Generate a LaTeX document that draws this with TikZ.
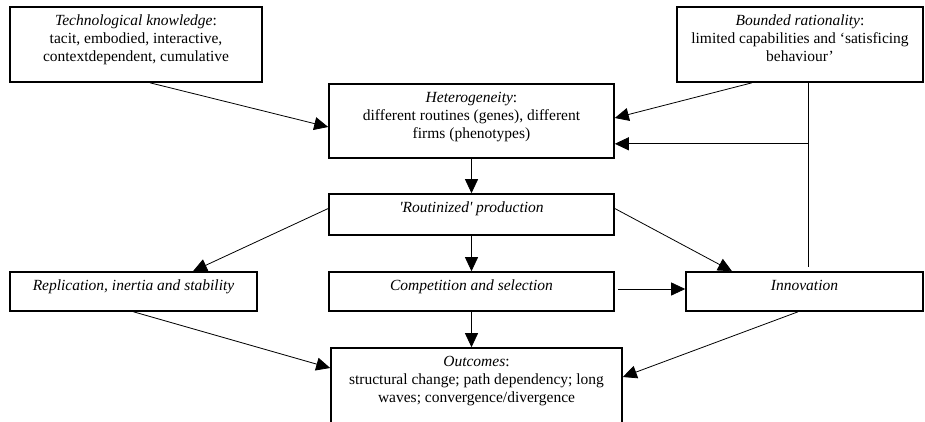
\documentclass[tikz,border=0pt]{standalone}
\usepackage{fontspec}
\setmainfont{Liberation Serif}[Ligatures=TeXOff]
\usetikzlibrary{arrows.meta,calc}
\begin{document}
\begin{tikzpicture}[x=1pt,y=-1pt,
 box/.style={draw, line width=1.6pt, inner sep=0pt, minimum width=#1},
 txt/.style={anchor=north, align=center, font=\fontsize{15.5}{18}\selectfont, inner sep=0pt},
 arr/.style={-{Triangle[length=14pt,width=13pt]}, line width=0.8pt},
 ln/.style={line width=0.8pt}]
\useasboundingbox (0,0) rectangle (925,421);
% boxes
\node[box=252pt, minimum height=75pt] (tk)   at (136,44.5) {};
\node[box=246pt, minimum height=75pt] (br)   at (800,44.5) {};
\node[box=285pt, minimum height=74pt] (het)  at (471.5,121) {};
\node[box=285pt, minimum height=41pt] (rout) at (471.5,214.5) {};
\node[box=247pt, minimum height=39pt] (rep)  at (133.5,291.5) {};
\node[box=285pt, minimum height=39pt] (comp) at (471.5,291.5) {};
\node[box=237pt, minimum height=39pt] (inn)  at (804.5,291.5) {};
\node[box=291pt, minimum height=92pt] (out)  at (476.5,394) {};
% texts
\node[txt] (tkt) at ($(tk.north)+(0,8.5)$) {\textit{Technological knowledge}:\\tacit, embodied, interactive,\\contextdependent, cumulative};
\node[txt] (brt) at ($(br.north)+(0,8.5)$) {\textit{Bounded rationality}:\\limited capabilities and ‘satisficing\\behaviour’};
\node[txt] (hett) at ($(het.north)+(0,8.5)$) {\textit{Heterogeneity}:\\different routines (genes), different\\firms (phenotypes)};
\node[txt] (routt) at ($(rout.north)+(0,8.5)$) {\textit{'Routinized' production}};
\node[txt] (rept) at ($(rep.north)+(0,8.5)$) {\textit{Replication, inertia and stability}};
\node[txt] (compt) at ($(comp.north)+(0,8.5)$) {\textit{Competition and selection}};
\node[txt] (innt) at ($(inn.north)+(0,8.5)$) {\textit{Innovation}};
\node[txt] (outt) at ($(out.north)+(0,8.5)$) {\textit{Outcomes}:\\structural change; path dependency; long\\waves; convergence/divergence};
% connectors
\draw[arr] ($(tk.south)+(14,0)$) -- ($(het.west)+(0,6)$);
\draw[arr] ($(br.south)+(-48,0)$) -- ($(het.east)+(0,-3)$);
\coordinate (j) at ($(br.south)+(8,61)$);
\coordinate (jb) at ($(inn.north)+(3.5,-4)$);
\draw[ln] ($(br.south)+(8,0)$) -- (jb);
\draw[arr] (j) -- (het.east |- j);
\draw[arr] (het.south) -- (rout.north);
\draw[arr] ($(rout.west)+(0,-6)$) -- ($(rep.north)+(59.5,0)$);
\draw[arr] (rout.south) -- (comp.north);
\draw[arr] ($(rout.east)+(0,-6)$) -- ($(inn.north)+(-72.5,0)$);
\draw[arr] ($(comp.east)+(3,-2.5)$) -- ($(inn.west)+(0,-2.5)$);
\draw[arr] (comp.south) -- (comp.south |- out.north);
\draw[arr] (rep.south) -- ($(out.west)+(0,-26)$);
\draw[arr] ($(inn.south)+(-6.5,0)$) -- ($(out.east)+(0,-17)$);
\end{tikzpicture}
\end{document}
